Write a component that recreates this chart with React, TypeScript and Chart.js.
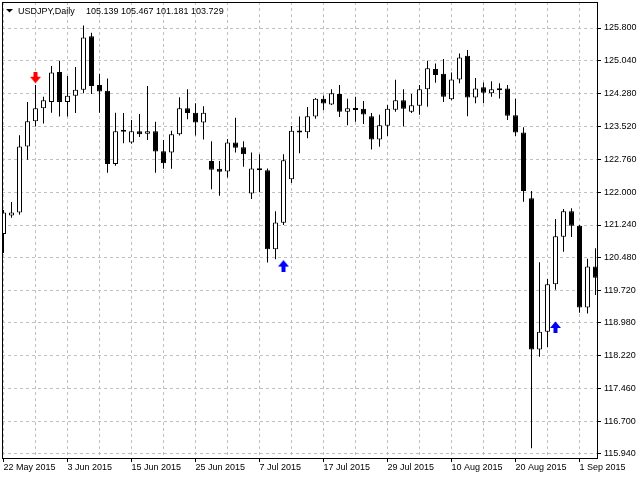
import { useEffect, useRef } from 'react';
import { Chart, registerables } from 'chart.js';

Chart.register(...registerables);

// ---- data ----
const titleSymbol = 'USDJPY,Daily';
const titleValues = '105.139 105.467 101.181 103.729';

const xTickLabels = [
  '22 May 2015', '3 Jun 2015', '15 Jun 2015', '25 Jun 2015', '7 Jul 2015',
  '17 Jul 2015', '29 Jul 2015', '10 Aug 2015', '20 Aug 2015', '1 Sep 2015',
];
const barsPerLabel = 8;
const barsPerGrid = 4;

const yTickLabels = [
  '125.800', '125.040', '124.280', '123.520', '122.760', '122.000', '121.240',
  '120.480', '119.720', '118.980', '118.220', '117.460', '116.700', '115.940',
];
const yMin = 115.847;
const yMax = 126.402;

const opens = [
  121.03, 121.46, 121.53, 123.06, 123.64, 123.94, 124.09, 124.78, 124.09, 124.23,
  124.37, 125.61, 124.48, 124.35, 122.65, 123.40, 123.15, 123.41, 123.35, 123.41,
  122.95, 122.92, 123.34, 123.94, 123.84, 123.61, 122.72, 122.54, 122.48, 123.15,
  123.04, 121.97, 122.55, 122.51, 120.68, 121.29, 122.30, 123.42, 123.39, 123.75,
  124.16, 124.03, 124.27, 123.86, 123.93, 123.93, 123.76, 123.22, 123.54, 123.91,
  124.13, 123.86, 124.00, 124.38, 124.85, 124.74, 124.15, 124.61, 125.16, 124.19,
  124.43, 124.29, 124.40, 124.40, 123.78, 123.38, 121.86, 118.36, 118.77, 119.87,
  120.97, 121.56, 121.22, 119.33, 120.28,
];
const highs = [
  121.59, 121.77, 123.32, 124.09, 124.48, 124.21, 124.92, 125.04, 124.69, 124.90,
  125.86, 125.69, 124.74, 124.63, 123.84, 123.83, 123.67, 123.81, 124.46, 123.63,
  123.21, 123.42, 124.20, 124.38, 124.06, 123.99, 123.18, 122.72, 123.23, 123.72,
  123.18, 122.92, 122.88, 122.55, 121.56, 122.88, 123.53, 123.75, 123.97, 124.18,
  124.24, 124.38, 124.48, 124.16, 124.21, 124.11, 123.83, 123.79, 124.02, 124.60,
  124.38, 124.27, 124.48, 125.04, 124.98, 125.08, 124.77, 125.21, 125.29, 124.64,
  124.54, 124.57, 124.52, 124.48, 124.16, 123.50, 122.03, 120.38, 119.99, 121.38,
  121.61, 121.63, 121.24, 120.46, 120.70,
];
const lows = [
  120.59, 121.41, 121.48, 122.75, 123.52, 123.59, 123.84, 123.75, 123.75, 123.83,
  124.29, 124.27, 123.84, 122.45, 122.61, 123.13, 123.12, 123.28, 123.21, 122.45,
  122.54, 122.54, 123.31, 123.69, 123.31, 123.22, 122.07, 121.92, 122.34, 122.92,
  122.59, 121.84, 122.00, 120.37, 120.45, 121.24, 122.21, 122.90, 123.25, 123.70,
  123.90, 124.02, 123.74, 123.55, 123.63, 123.58, 122.99, 123.05, 123.30, 123.86,
  123.52, 123.83, 123.79, 123.98, 124.53, 124.09, 124.13, 124.52, 123.76, 124.06,
  124.06, 124.21, 124.17, 123.67, 123.30, 121.78, 116.07, 118.19, 118.41, 119.74,
  120.62, 120.96, 119.21, 119.19, 119.62,
];
const closes = [
  121.53, 121.53, 123.06, 123.64, 123.94, 124.13, 124.77, 124.09, 124.23, 124.37,
  125.58, 124.46, 124.33, 122.65, 123.41, 123.43, 123.41, 123.34, 123.41, 122.94,
  122.67, 123.34, 123.94, 123.83, 123.61, 123.84, 122.52, 122.47, 123.15, 123.03,
  122.88, 122.55, 122.51, 120.68, 121.30, 122.74, 123.42, 123.38, 123.76, 124.16,
  124.05, 124.29, 123.86, 123.94, 123.90, 123.80, 123.22, 123.55, 123.93, 124.13,
  123.93, 124.01, 124.38, 124.87, 124.71, 124.21, 124.61, 125.12, 124.19, 124.40,
  124.30, 124.38, 124.36, 123.77, 123.38, 122.03, 118.36, 118.77, 119.87, 120.98,
  121.56, 121.22, 119.33, 120.28, 120.02,
];

const downArrowBars = [4];
const downArrowPrices = [124.65];
const upArrowBars = [35, 69];
const upArrowPrices = [120.30, 118.88];

// ---- helpers ----
const FONT = 'Liberation Sans';

function makeArrow(color: string, up: boolean): HTMLCanvasElement {
  const c = document.createElement('canvas');
  c.width = 11;
  c.height = 12;
  const g = c.getContext('2d')!;
  g.fillStyle = color;
  g.save();
  if (up) {
    g.translate(0, 12);
    g.scale(1, -1);
  }
  g.fillRect(3.5, 0, 4, 6);
  g.beginPath();
  g.moveTo(0, 5);
  g.lineTo(11, 5);
  g.lineTo(5.5, 11.5);
  g.closePath();
  g.fill();
  g.restore();
  return c;
}

const framePlugin = {
  id: 'mtFrame',
  afterDraw(chart: any) {
    const { ctx, chartArea: a } = chart;
    ctx.save();
    ctx.strokeStyle = '#000';
    ctx.lineWidth = 1;
    ctx.strokeRect(
      Math.round(a.left) + 0.5,
      Math.round(a.top) + 0.5,
      Math.round(a.right - a.left),
      Math.round(a.bottom - a.top),
    );
    const ox = a.left;
    const oy = a.top;
    ctx.fillStyle = '#000';
    ctx.beginPath();
    ctx.moveTo(ox + 4, oy + 7);
    ctx.lineTo(ox + 11, oy + 7);
    ctx.lineTo(ox + 7.5, oy + 10.5);
    ctx.closePath();
    ctx.fill();
    ctx.font = `9px "${FONT}"`;
    ctx.textBaseline = 'alphabetic';
    ctx.textAlign = 'left';
    ctx.fillText(titleSymbol, ox + 16, oy + 12);
    ctx.fillText(titleValues, ox + 84, oy + 12);
    ctx.restore();
  },
};

export default function App() {
  const ref = useRef<HTMLCanvasElement>(null);

  useEffect(() => {
    const canvas = ref.current;
    if (!canvas) return;

    const bodies = opens.map((o, i) => ({ x: i, y: [o, closes[i]] }));
    const wicks = lows.map((l, i) => ({ x: i, y: [l, highs[i]] }));
    const bodyFill = opens.map((o, i) => (closes[i] >= o ? '#ffffff' : '#000000'));
    const downPts = downArrowBars.map((b, i) => ({ x: b, y: downArrowPrices[i] }));
    const upPts = upArrowBars.map((b, i) => ({ x: b, y: upArrowPrices[i] }));
    const yTickValues = yTickLabels.map((s) => parseFloat(s));
    const lastBar = opens.length - 1;

    const chart = new Chart(canvas, {
      type: 'bar',
      data: {
        datasets: [
          {
            type: 'scatter',
            label: 'sell',
            data: downPts,
            pointStyle: makeArrow('#ff0000', false) as any,
            pointRadius: 6,
          } as any,
          {
            type: 'scatter',
            label: 'buy',
            data: upPts,
            pointStyle: makeArrow('#0000ff', true) as any,
            pointRadius: 6,
          } as any,
          {
            type: 'bar',
            label: 'body',
            data: bodies as any,
            backgroundColor: bodyFill,
            borderColor: '#000000',
            borderWidth: 1,
            borderSkipped: false,
            barThickness: 5,
            minBarLength: 2,
            grouped: false,
            inflateAmount: 0,
          } as any,
          {
            type: 'bar',
            label: 'wick',
            data: wicks as any,
            backgroundColor: '#000000',
            borderWidth: 0,
            barThickness: 1,
            grouped: false,
            inflateAmount: 0,
          } as any,
        ],
      },
      options: {
        animation: false,
        responsive: false,
        maintainAspectRatio: false,
        devicePixelRatio: 1,
        layout: { autoPadding: false, padding: { left: 2, top: 2, right: 0, bottom: 0 } },
        plugins: {
          legend: { display: false },
          tooltip: { enabled: false },
          title: { display: false },
        },
        scales: {
          x: {
            type: 'linear',
            position: 'bottom',
            min: -0.1875,
            max: lastBar + 0.1875,
            offset: false,
            afterBuildTicks: (s: any) => {
              const t = [];
              for (let v = 0; v <= lastBar; v += barsPerGrid) t.push({ value: v });
              s.ticks = t;
            },
            afterFit: (s: any) => {
              s.height = 22;
              s.paddingLeft = 0;
              s.paddingRight = 0;
            },
            grid: {
              offset: false,
              color: '#c0c0c0',
              lineWidth: 1,
              drawTicks: true,
              tickLength: 4,
              tickWidth: 1,
              tickColor: (ctx: any) =>
                ctx.tick && ctx.tick.value % barsPerLabel === 0 ? '#000000' : 'rgba(0,0,0,0)',
            },
            border: { display: false, dash: [3, 3] },
            ticks: {
              autoSkip: false,
              maxRotation: 0,
              minRotation: 0,
              align: 'start',
              padding: 0,
              color: '#000000',
              font: { family: FONT, size: 9 },
              callback: (v: any) =>
                v % barsPerLabel === 0 ? xTickLabels[v / barsPerLabel] ?? '' : '',
            },
          } as any,
          y: {
            type: 'linear',
            position: 'right',
            min: yMin,
            max: yMax,
            afterBuildTicks: (s: any) => {
              s.ticks = yTickValues.map((v) => ({ value: v }));
            },
            afterFit: (s: any) => {
              s.width = 43;
              s.paddingTop = 0;
              s.paddingBottom = 0;
            },
            grid: {
              color: '#c0c0c0',
              lineWidth: 1,
              drawTicks: true,
              tickLength: 4,
              tickColor: '#000000',
            },
            border: { display: false, dash: [3, 3] },
            ticks: {
              autoSkip: false,
              padding: 3,
              color: '#000000',
              font: { family: FONT, size: 9 },
              callback: (_v: any, i: number) => yTickLabels[i],
            },
          } as any,
        },
      },
      plugins: [framePlugin],
    });

    return () => chart.destroy();
  }, []);

  return (
    <div style={{ position: 'fixed', left: 0, top: 0, width: 640, height: 480, background: '#ffffff' }}>
      <canvas ref={ref} width={640} height={480} style={{ display: 'block', width: 640, height: 480 }} />
    </div>
  );
}
